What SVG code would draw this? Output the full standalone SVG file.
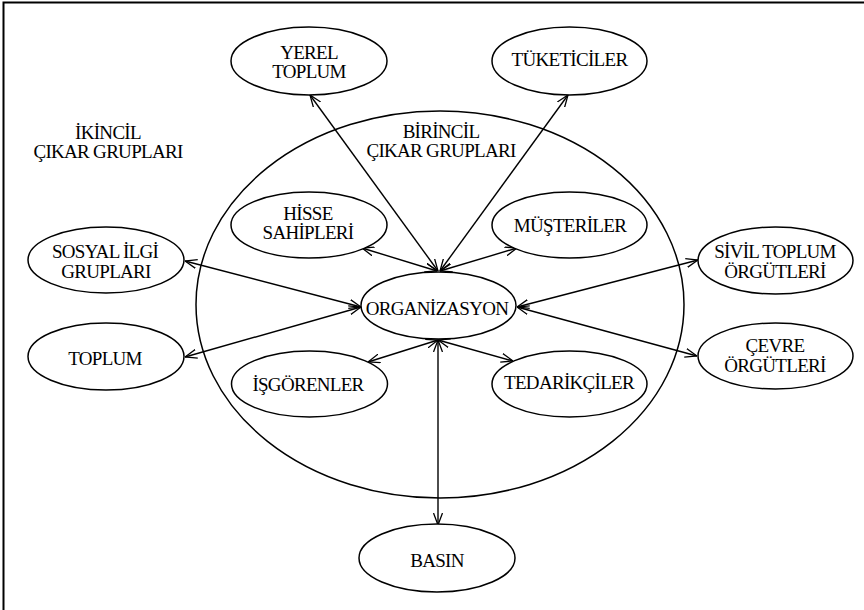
<svg xmlns="http://www.w3.org/2000/svg" width="864" height="610" viewBox="0 0 864 610">
<defs>
<style>
.n{fill:#fff;stroke:#000;stroke-width:1.5}
.big{fill:none;stroke:#000;stroke-width:1.5}
.t{font-family:"Liberation Serif","Times New Roman",serif;font-size:19px;letter-spacing:-0.7px;fill:#000;text-anchor:middle}
.c line{stroke:#000;stroke-width:1.4;marker-start:url(#ah);marker-end:url(#ah)}
</style>
<marker id="ah" viewBox="0 0 12 10" refX="12" refY="5" markerWidth="12" markerHeight="10" markerUnits="userSpaceOnUse" orient="auto-start-reverse">
<path d="M0,0.5 L12,5 L0,9.5" fill="none" stroke="#000" stroke-width="1.3"/>
</marker>
</defs>
<rect width="864" height="610" fill="#fff"/>
<path d="M3.5,610 V2.5 H864" fill="none" stroke="#000" stroke-width="2"/>

<g id="primary-boundary">
<ellipse class="big" cx="440" cy="304.5" rx="244" ry="193.5"/>
</g>
<g id="label-ikincil">
<text class="t" x="108" y="139">İKİNCİL</text>
<text class="t" x="108" y="158">ÇIKAR GRUPLARI</text>
</g>
<g id="label-birincil">
<text class="t" x="441" y="138">BİRİNCİL</text>
<text class="t" x="441" y="157">ÇIKAR GRUPLARI</text>
</g>

<g id="connectors" class="c">
<line x1="438" y1="271" x2="310" y2="95"/>
<line x1="440" y1="271" x2="568" y2="95"/>
<line x1="437" y1="271" x2="362" y2="248"/>
<line x1="440" y1="271" x2="517" y2="248"/>
<line x1="361" y1="307" x2="185" y2="261"/>
<line x1="361" y1="307" x2="185" y2="357"/>
<line x1="517" y1="307" x2="698" y2="260"/>
<line x1="517" y1="307" x2="697" y2="356"/>
<line x1="438" y1="340" x2="368" y2="362"/>
<line x1="438" y1="340" x2="513" y2="361"/>
<line x1="438" y1="340" x2="438" y2="525"/>
</g>

<g id="organizasyon">
<ellipse class="n" cx="438.5" cy="305.5" rx="77.5" ry="33.5" style="fill:none"/>
<text class="t" x="437" y="315">ORGANİZASYON</text>
</g>
<g id="yerel-toplum">
<ellipse class="n" cx="309" cy="61" rx="78" ry="34"/>
<text class="t" x="309" y="59">YEREL</text>
<text class="t" x="309" y="78">TOPLUM</text>
</g>
<g id="tuketiciler">
<ellipse class="n" cx="569.5" cy="61" rx="77.5" ry="34"/>
<text class="t" x="569.5" y="66">TÜKETİCİLER</text>
</g>
<g id="hisse-sahipleri">
<ellipse class="n" cx="309" cy="225" rx="78" ry="33"/>
<text class="t" x="308" y="220">HİSSE</text>
<text class="t" x="308" y="239">SAHİPLERİ</text>
</g>
<g id="musteriler">
<ellipse class="n" cx="569.5" cy="225" rx="77.5" ry="33"/>
<text class="t" x="570" y="232">MÜŞTERİLER</text>
</g>
<g id="sosyal-ilgi-gruplari">
<ellipse class="n" cx="106" cy="260" rx="78" ry="33"/>
<text class="t" x="105" y="258">SOSYAL İLGİ</text>
<text class="t" x="106" y="278">GRUPLARI</text>
</g>
<g id="toplum">
<ellipse class="n" cx="106" cy="356.5" rx="78" ry="33.5"/>
<text class="t" x="105" y="365">TOPLUM</text>
</g>
<g id="isgorenler">
<ellipse class="n" cx="309.5" cy="384" rx="78" ry="33"/>
<text class="t" x="308" y="391">İŞGÖRENLER</text>
</g>
<g id="tedarikciler">
<ellipse class="n" cx="569.5" cy="384" rx="77.5" ry="33"/>
<text class="t" x="569" y="389">TEDARİKÇİLER</text>
</g>
<g id="basin">
<ellipse class="n" cx="437" cy="558" rx="78" ry="34"/>
<text class="t" x="437" y="567">BASIN</text>
</g>
<g id="sivil-toplum-orgutleri">
<ellipse class="n" cx="775.5" cy="260.5" rx="77.5" ry="33.5"/>
<text class="t" x="775" y="258">SİVİL TOPLUM</text>
<text class="t" x="775" y="278">ÖRGÜTLERİ</text>
</g>
<g id="cevre-orgutleri">
<ellipse class="n" cx="775.5" cy="356" rx="77.5" ry="33"/>
<text class="t" x="775" y="352">ÇEVRE</text>
<text class="t" x="775" y="372">ÖRGÜTLERİ</text>
</g>
</svg>
